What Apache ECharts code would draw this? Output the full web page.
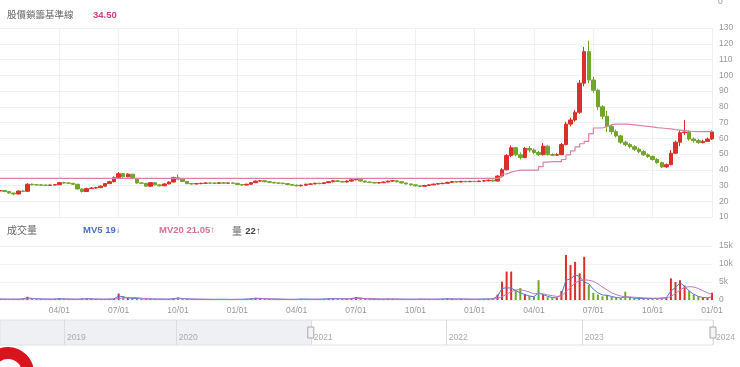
<!DOCTYPE html>
<html><head><meta charset="utf-8">
<script src="https://cdn.jsdelivr.net/npm/echarts@6/dist/echarts.min.js"></script>
<style>html,body{margin:0;padding:0;background:#fff}#c{width:740px;height:367px}</style>
</head><body><div id="c"></div>
<script>
// weekly categories (week start dates), Jan 2021 .. Jan 2024
const dates = [];
(function(){ let t = Date.UTC(2021,0,4); for (let i=0;i<157;i++){ dates.push(new Date(t).toISOString().slice(0,10)); t += 7*86400000; } })();

const tickIdx  = [13,26,39,52,65,78,91,104,117,130,143,156];
const tickText = ['04/01','07/01','10/01','01/01','04/01','07/01','10/01','01/01','04/01','07/01','10/01','01/01'];

const openP = [
26.5,26.8,26.2,25.2,24.6,26.5,26.3,30.8,30.5,30.4,30.2,30.1,30.3,
30.5,31.8,31.6,31.4,30.8,27.8,26.2,28,28.4,28.6,29.6,31.2,32.4,
35,37.5,35.5,37.2,34.5,31.6,31.4,29.6,31.8,30.4,29.8,31,32.2,
35,34,32.6,31.2,31,31.2,31.4,31.6,31.5,31.4,31.7,31.5,31.6,
31.4,30.6,30.3,30.8,31.8,32.8,33,32.4,32,31.6,31.5,31.2,30.6,
30.2,29.8,30.2,30.8,31,31.4,31.2,31.8,32.4,33,32.6,32.2,32.8,
33.6,34,32.8,32.2,32,31.6,31.8,32.2,32.8,33,32.4,31.6,31,
30.4,29.8,29.5,30,30.4,30.9,31.2,31.4,32,32.5,32.2,32.6,32.4,
32.6,32.5,32.8,33,33.4,32.8,36,40,49,54,49.5,47.8,53.5,
52.5,51,49.6,55,49.6,49.2,49.6,56,69,71.6,76.5,95,115,
97,90.5,80,74,67.5,64.2,61.5,57.5,56,54.6,53,51.5,49.5,
48.4,46.5,44.5,41.8,43.2,50.5,57.5,63.5,64,59.5,58.5,57.2,58,
59.5];
const closeP = [
26.8,26.2,25.2,24.6,26.5,26.3,30.8,30.5,30.4,30.2,30.1,30.3,30.5,
31.8,31.6,31.4,30.8,27.8,26.2,28,28.4,28.6,29.6,31.2,32.4,35,
37.5,35.5,37.2,34.5,31.6,31.4,29.6,31.8,30.4,29.8,31,32.2,35,
34,32.6,31.2,31,31.2,31.4,31.6,31.5,31.4,31.7,31.5,31.6,31.4,
30.6,30.3,30.8,31.8,32.8,33,32.4,32,31.6,31.5,31.2,30.6,30.2,
29.8,30.2,30.8,31,31.4,31.2,31.8,32.4,33,32.6,32.2,32.8,33.6,
34,32.8,32.2,32,31.6,31.8,32.2,32.8,33,32.4,31.6,31,30.4,
29.8,29.5,30,30.4,30.9,31.2,31.4,32,32.5,32.2,32.6,32.4,32.6,
32.5,32.8,33,33.4,32.8,36,40,49,54,49.5,47.8,53.5,52.5,
51,49.6,55,49.6,49.2,49.6,56,69,71.6,76.5,95,115,97,
90.5,80,74,67.5,64.2,61.5,57.5,56,54.6,53,51.5,49.5,48.4,
46.5,44.5,41.8,43.2,50.5,57.5,63.5,64,59.5,58.5,57.2,58,59.5,
64];
const lowP = [
26,25.8,24.8,23.8,24.4,25.8,26,30,30,29.8,29.7,29.8,30,
30.2,31.2,31,30.4,27.5,25.5,26,27.8,28,28.4,29.4,31,32,
34.8,35,35.2,34,31.2,31,29.2,29,30,29.4,29.6,30.8,32,
33.6,32.2,30.8,30.6,30.7,30.8,31,31.1,31,31.1,31.1,31.2,31,
30.2,29.8,30,30.6,31.5,32.4,32,31.6,31.2,31,30.8,30.2,29.8,
29.4,29.4,30,30.4,30.8,30.8,31,31.5,32,32.2,31.8,31.9,32.5,
33.2,32.4,31.8,31.6,31.2,31.2,31.5,32,32.4,32,31.2,30.6,30,
29.4,29.2,29.2,29.8,30.2,30.6,30.8,31.2,31.8,31.8,31.9,32,32.1,
32.2,32.2,32.4,32.6,32.4,32.6,35.6,39.6,48,48.5,46.5,47.2,51,
50,48.8,49,49,48.6,48.8,49.2,55.5,67.5,70.5,75.5,93,95,
89,78,72,64,62.5,60.5,56.5,55,53.5,52,50.5,48.8,47.5,
45.8,43.8,41,41.2,42.8,50,55,62,58.5,57.2,56.5,56.8,57.8,
59];
const highP = [
27.2,27,26.4,25.4,26.8,27,31.5,31.2,31,30.8,30.6,30.7,31,
32.2,32.4,32,31.6,31,28.2,28.6,29,29.2,30,31.6,33,35.8,
38.5,37.8,37.8,37.4,34.8,32.2,31.6,32.2,32.2,30.8,31.4,32.6,35.6,
37,34.4,32.8,31.6,31.6,31.8,32,32,31.9,32.1,32,32,31.9,
31.6,30.8,31.2,32.2,33.2,33.6,33.4,32.8,32.2,32,31.8,31.4,30.8,
30.6,30.6,31.2,31.4,31.8,31.8,32.2,32.8,33.5,33.4,33,33.2,34,
34.6,34.2,33,32.6,32.2,32.2,32.6,33.2,33.5,33.2,32.6,31.8,31.2,
30.6,30,30.4,30.8,31.2,31.6,31.8,32.4,32.9,32.8,33,33,33,
33,33.2,33.4,33.8,33.8,36.5,41,50,55.5,54.5,51,54.5,55,
53.5,52,57,55.5,50.4,50.5,57,70.5,73,78,97,118,122,
99,91.5,81,77.5,69,65.5,62.2,58.5,57,55.5,54,52.5,50.4,
49,47.5,45,44,52.5,58.5,65,71.5,65,60.5,59.5,59,60.5,
65];
const baseLine = [
34.5,34.5,34.5,34.5,34.5,34.5,34.5,34.5,34.5,34.5,34.5,34.5,34.5,
34.5,34.5,34.5,34.5,34.5,34.5,34.5,34.5,34.5,34.5,34.5,34.5,34.5,
34.5,34.5,34.5,34.5,34.5,34.5,34.5,34.5,34.5,34.5,34.5,34.5,34.5,
34.5,34.5,34.5,34.5,34.5,34.5,34.5,34.5,34.5,34.5,34.5,34.5,34.5,
34.5,34.5,34.5,34.5,34.5,34.5,34.5,34.5,34.5,34.5,34.5,34.5,34.5,
34.5,34.5,34.5,34.5,34.5,34.5,34.5,34.5,34.5,34.5,34.5,34.5,34.5,
34.5,34.5,34.5,34.5,34.5,34.5,34.5,34.5,34.5,34.5,34.5,34.5,34.5,
34.5,34.5,34.5,34.5,34.5,34.5,34.5,34.5,34.5,34.5,34.5,34.5,34.5,
34.5,34.5,34.5,34.5,34.5,35.5,37.3,38.5,39.2,39.8,39.8,39.8,39.8,
39.8,42,44.8,45.1,45.1,45.1,46.5,49.5,52,54.5,56.5,58,63,
66.5,66.5,67.5,68.6,69,69,69,68.8,68.5,68.2,67.8,67.5,67.2,
66.8,66.5,66.2,65.9,65.5,65.2,64.8,64.5,64.3,64.2,64.2,64.2,64.2,
64.2];
const volume = [
300,250,200,300,250,400,900,400,300,250,200,250,300,
500,300,250,200,200,400,500,300,250,200,200,300,400,
1800,1000,600,500,400,300,250,250,300,250,200,250,500,
700,400,250,200,200,200,200,150,150,200,200,150,150,
200,200,300,400,600,500,300,250,200,200,150,150,200,
200,300,250,200,200,250,300,400,500,400,300,300,500,
800,600,300,250,200,200,250,300,300,250,200,200,200,
200,300,250,200,200,250,300,400,300,250,300,250,200,
200,250,300,300,400,1500,5100,7900,7900,2800,3300,1700,1200,
900,5500,1500,800,600,600,2500,12500,9700,10600,7400,12000,4200,
2000,1500,1000,1400,900,600,500,2300,700,500,400,400,400,
400,500,600,700,6000,5000,5500,4000,2500,1500,1000,700,600,
2000];
const mv5 = [
250,230,200,220,230,300,600,450,320,250,220,230,260,
380,320,260,210,200,300,380,320,260,210,200,250,330,
1100,900,600,480,400,320,270,260,280,260,220,230,380,
550,420,280,220,200,200,190,160,150,180,190,160,150,
180,190,250,330,480,460,330,260,210,200,160,150,180,
190,260,240,210,200,230,270,350,430,390,310,290,420,
650,560,330,260,210,200,230,270,280,250,210,200,200,
200,260,240,210,200,230,270,350,300,260,280,250,210,
200,230,270,290,350,1000,3200,3400,3300,2600,2000,1500,1100,
900,2000,1500,1000,700,600,1500,5500,5800,7000,6500,5000,4500,
3000,2000,1400,1300,1000,700,550,900,700,500,450,400,400,
400,450,550,650,2500,3500,4800,3800,2500,1600,1000,700,600,
900];
const mv20 = [
260,250,240,230,230,250,300,330,330,320,280,250,240,
250,260,260,250,240,260,280,280,270,250,240,240,260,
450,550,650,700,650,500,400,330,290,270,260,250,270,
320,350,340,300,260,230,210,200,190,180,175,170,170,
175,180,200,230,280,330,360,360,330,280,240,210,190,
190,200,210,220,220,220,230,260,290,320,330,330,340,
400,450,460,440,380,320,280,260,250,250,240,230,220,
210,210,220,230,230,230,240,260,270,270,270,270,260,
240,230,230,240,260,400,900,1600,2300,2800,2900,2600,2200,
1700,1800,1700,1400,1200,1000,1100,2300,3500,4800,5300,5600,5500,
5200,4500,3600,2800,2000,1500,1100,900,850,750,700,600,550,
500,480,480,500,1000,1800,2800,3500,3700,3600,3200,2600,2000,
1500];

// overview slider (full history, trading-day index) year marks
const sliderYears   = ['2019','2020','2021','2022','2023','2024'];
const sliderYearIdx = [116, 319, 564, 809, 1056, 1294];
const sliderWindow  = [564, 1294];

const UP = '#dc2f2a', DOWN = '#72a52c';
const FONT = 'Liberation Sans, "Noto Sans CJK TC", sans-serif';

const kData = dates.map((d,i)=>[openP[i], closeP[i], lowP[i], highP[i]]);
const volData = volume.map((v,i)=>({value:v, itemStyle:{color: closeP[i] >= openP[i] ? UP : DOWN}}));
const isTick = (i)=> tickIdx.indexOf(i) >= 0;

const chart = echarts.init(document.getElementById('c'));
const option = {
  animation:false,
  textStyle:{fontFamily:FONT},
  grid:[
    {left:0, right:28, top:28, height:189},
    {left:0, right:28, top:246, height:54},
    {left:0, right:27, top:320, height:25, show:true, borderColor:'#e2e2e2', borderWidth:1}
  ],
  xAxis:[
    {type:'category', gridIndex:0, data:dates, boundaryGap:false,
     axisLine:{show:false}, axisTick:{show:false}, axisLabel:{show:false},
     splitLine:{show:true, interval:(i)=>isTick(i), lineStyle:{color:'#efefef'}}},
    {type:'category', gridIndex:1, data:dates, boundaryGap:false,
     axisLine:{show:false}, axisTick:{show:false},
     axisLabel:{interval:(i)=>isTick(i), formatter:(v,i)=>tickText[tickIdx.indexOf(i)], color:'#999', fontSize:8.5, margin:6},
     splitLine:{show:false}},
    {type:'value', gridIndex:2, min:0, max:1294, z:5,
     axisLine:{show:false},
     axisTick:{show:true, customValues:sliderYearIdx, inside:true, length:25, lineStyle:{color:'#dcdcdc'}},
     axisLabel:{show:true, customValues:sliderYearIdx, inside:true, formatter:(v)=>sliderYears[sliderYearIdx.indexOf(v)],
       align:'left', margin:3, padding:[0,0,0,3], color:'#aaa', fontSize:8.5},
     splitLine:{show:false}}
  ],
  yAxis:[
    {type:'value', gridIndex:0, position:'right', min:10, max:130, interval:10,
     axisLine:{show:false}, axisTick:{show:false},
     axisLabel:{color:'#999', fontSize:8.5, margin:7},
     splitLine:{lineStyle:{color:'#f1f1f1'}}},
    {type:'value', gridIndex:1, position:'right', min:0, max:15000, interval:5000,
     axisLine:{show:false}, axisTick:{show:false},
     axisLabel:{color:'#999', fontSize:8.5, margin:7, formatter:(v)=> v===0 ? '0' : (v/1000)+'k'},
     splitLine:{lineStyle:{color:'#f3f3f3'}}},
    {type:'value', gridIndex:2, min:0, max:1, show:false}
  ],
  series:[
    {type:'candlestick', xAxisIndex:0, yAxisIndex:0, data:kData, barWidth:4,
     itemStyle:{color:UP, color0:DOWN, borderColor:UP, borderColor0:DOWN, borderWidth:1}},
    {type:'line', xAxisIndex:0, yAxisIndex:0, data:baseLine, step:'end', symbol:'none',
     lineStyle:{color:'#e07fa8', width:1.2}},
    {type:'bar', xAxisIndex:1, yAxisIndex:1, data:volData, barWidth:2},
    {type:'line', xAxisIndex:1, yAxisIndex:1, data:mv5, symbol:'none', lineStyle:{color:'#4f79d2', width:1}},
    {type:'line', xAxisIndex:1, yAxisIndex:1, data:mv20, symbol:'none', lineStyle:{color:'#b779c4', width:1}},
    {type:'line', xAxisIndex:2, yAxisIndex:2, z:-5, zlevel:0, data:[[0,0],[1294,0]], symbol:'none', lineStyle:{opacity:0},
     markArea:{silent:true, z:-5, itemStyle:{color:'#eef0f3'}, data:[[{xAxis:0, yAxis:0},{xAxis:sliderWindow[0], yAxis:1}]]}}
  ]
};
chart.setOption(option);

const hx0 = chart.convertToPixel({xAxisIndex:2}, sliderWindow[0]);
const hx1 = chart.convertToPixel({xAxisIndex:2}, sliderWindow[1]);
const handle = (x)=>({type:'rect', shape:{x:x-3, y:327, width:6, height:11}, style:{fill:'#f4f4f4', stroke:'#a8a8a8', lineWidth:1}, z:10});

chart.setOption({graphic:[
  {type:'text', left:7, top:10, style:{text:'股價鎖籌基準線', fill:'#666', font:'9.5px "Noto Sans CJK TC", sans-serif'}},
  {type:'text', left:93, top:10, style:{text:'34.50', fill:'#c8417f', font:'bold 9.5px Liberation Sans, sans-serif'}},
  {type:'text', left:7, top:225, style:{text:'成交量', fill:'#666', font:'10px "Noto Sans CJK TC", sans-serif'}},
  {type:'text', left:83, top:225, style:{text:'MV5 19↓', fill:'#4a72c8', font:'bold 9.5px Liberation Sans, "DejaVu Sans", sans-serif'}},
  {type:'text', left:159, top:225, style:{text:'MV20 21.05↑', fill:'#d6728f', font:'bold 9.5px Liberation Sans, "DejaVu Sans", sans-serif'}},
  {type:'text', left:232, top:225, style:{text:'{a|量} {b|22↑}', rich:{a:{fill:'#666', font:'10px "Noto Sans CJK TC", sans-serif'}, b:{fill:'#444', font:'bold 9.5px Liberation Sans, "DejaVu Sans", sans-serif'}}}},
  {type:'text', left:718, top:-3, style:{text:'0', fill:'#999', font:'8.5px Liberation Sans, sans-serif'}},
  handle(hx0), handle(hx1),
  {type:'ring', shape:{cx:8, cy:373, r:26, r0:14}, style:{fill:'#d8141c'}}
]});
</script></body></html>
